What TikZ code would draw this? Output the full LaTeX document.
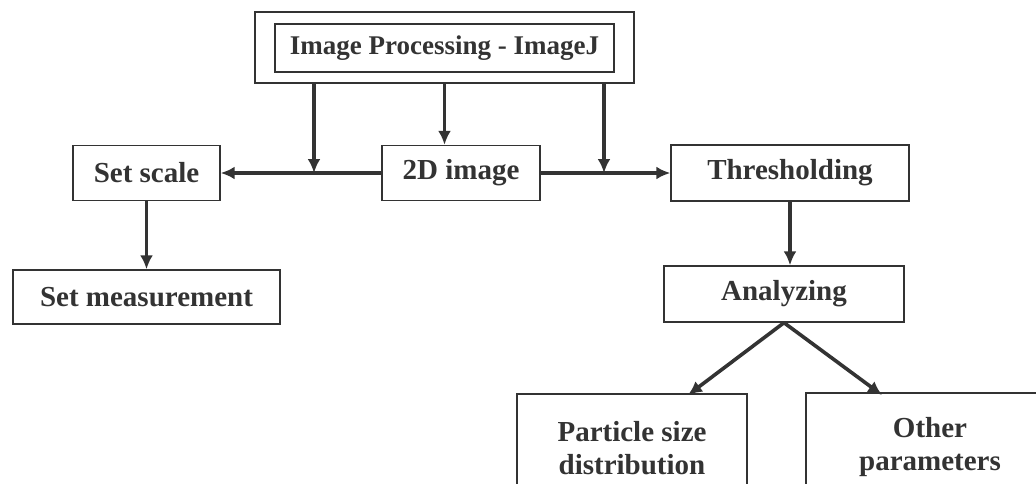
\documentclass[tikz,border=0pt]{standalone}
\usepackage{fontspec}
\setmainfont{Liberation Serif}
\usetikzlibrary{arrows.meta}

\tikzset{
  stepbox/.style={draw=black!80,line width=1.4pt,text=black!80,
    font=\fontsize{29}{33}\selectfont\bfseries,inner sep=0pt,
    align=center},
}

\begin{document}
\begin{tikzpicture}[x=1pt,y=-1pt,>={Latex[length=14pt,width=13pt]},
    link/.style={->,draw=black!80,line width=3.6pt}]
        \useasboundingbox (0,0) rectangle (1036,483);
        \node[stepbox,minimum width=379pt,minimum height=71pt] (proc) at (444.5,47.5) {};
        \node[stepbox,minimum width=339pt,minimum height=48pt,
          font=\fontsize{27}{31}\selectfont\bfseries] (ij) at (444.5,48) {Image Processing - ImageJ};
        \node[stepbox,minimum width=158pt,minimum height=55pt] (img) at (461,173) {2D image};
        \node[stepbox,minimum width=147pt,minimum height=55pt] (scale) at (146.5,173) {Set scale};
        \node[stepbox,minimum width=267pt,minimum height=54pt] (meas) at (146.5,297) {Set measurement};
        \node[stepbox,minimum width=238pt,minimum height=56pt] (thr) at (790,173) {Thresholding};
        \node[stepbox,minimum width=240pt,minimum height=56pt] (ana) at (784,294) {Analyzing};
        \node[stepbox,minimum width=230pt,minimum height=108pt] (psd) at (632,448) {Particle size\\distribution};
        \node[stepbox,minimum width=248pt,minimum height=108pt] (oth) at (930,447) {Other\\parameters};
        \coordinate (jl) at (314,173);
        \coordinate (jr) at (604,173);
        \coordinate (pe) at (688,395);
        \coordinate (oe) at (882,395);
        \draw[link] (img.west) -- (scale.east);
        \draw[link] (img.east) -- (thr.west);
        \draw[link] (proc.south -| jl) -- (jl);
        \draw[link] (proc.south -| jr) -- (jr);
        \draw[link] (proc.south) -- (proc.south |- img.north);
        \draw[link] (scale) -- (meas);
        \draw[link] (thr.south) -- (thr.south |- ana.north);
        \draw[link] (ana.south) -- (pe);
        \draw[link] (ana.south) -- (oe);
      \end{tikzpicture}
\end{document}
